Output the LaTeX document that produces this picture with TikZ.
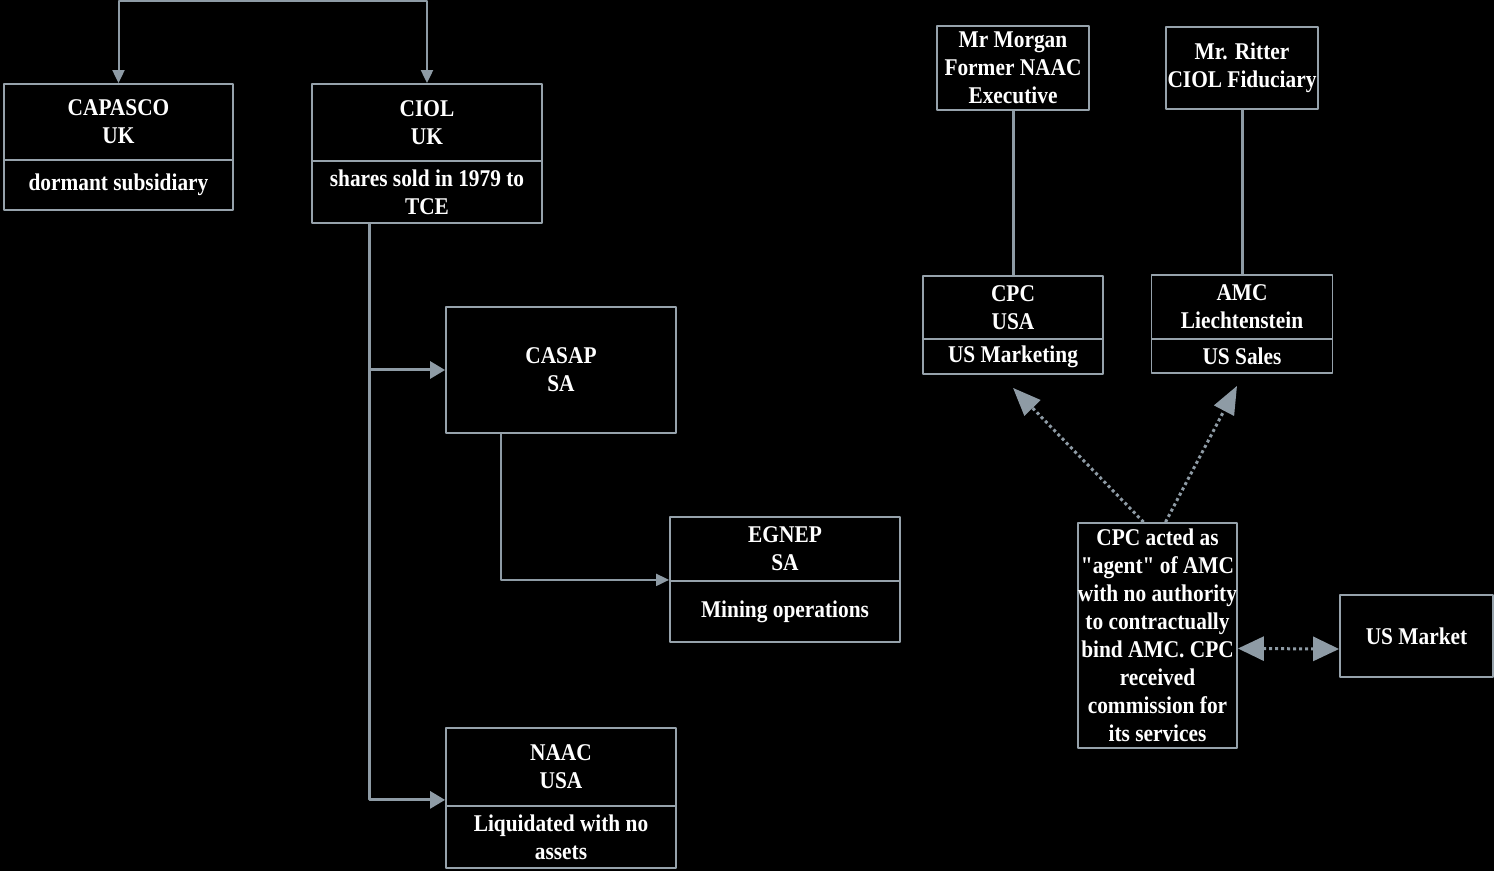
\documentclass[tikz,border=0pt]{standalone}
\usepackage{fontspec}
\setmainfont{Liberation Serif}[Ligatures=TeXOff,FakeStretch=0.89]
\usetikzlibrary{arrows.meta}
\definecolor{linegray}{RGB}{142,155,165}
\definecolor{boxgray}{RGB}{150,162,171}
\begin{document}
\begin{tikzpicture}[x=0.5pt,y=-0.5pt,line join=round,font=\fontsize{12}{14}\selectfont\bfseries,
	box/.style={draw=boxgray,line width=0.9pt,text=white,align=center,inner sep=0pt},
	link/.style={draw=linegray,line width=1pt,-{Triangle[length=6.5pt,width=6pt]}},
	trunk/.style={draw=linegray,line width=1.5pt,-{Triangle[length=7.5pt,width=8.5pt]}},
	tie/.style={draw=linegray,line width=1.5pt},
	dotlink/.style={draw=linegray,line width=1.5pt,dash pattern=on 1.5pt off 1.5pt,-{Triangle[length=14pt,width=11pt]}}]
	\path[use as bounding box,fill=black] (0,0) rectangle (1494,871);
	% left group
	\node[box,minimum width=114.5pt,minimum height=38pt] (capasco) at (118.5,122) {CAPASCO\\UK};
	\node[box,minimum width=114.5pt,minimum height=25pt] (capasco-b) at (118.5,185) {dormant subsidiary};
	\node[box,minimum width=115pt,minimum height=38.5pt] (ciol) at (427,122.5) {CIOL\\UK};
	\node[box,minimum width=115pt,minimum height=31pt] (ciol-b) at (427,192) {shares sold in 1979 to\\TCE};
	\node[box,minimum width=115pt,minimum height=63pt] (casap) at (561,370) {CASAP\\SA};
	\node[box,minimum width=115pt,minimum height=32pt] (egnep) at (785,549) {EGNEP\\SA};
	\node[box,minimum width=115pt,minimum height=30.5pt] (egnep-b) at (785,611.5) {Mining operations};
	\node[box,minimum width=115pt,minimum height=39pt] (naac) at (561,767) {NAAC\\USA};
	\node[box,minimum width=115pt,minimum height=31pt] (naac-b) at (561,837) {Liquidated with no\\assets};
	% right group
	\node[box,minimum width=76pt,minimum height=42pt] (morgan) at (1013,68) {Mr Morgan\\Former NAAC\\Executive};
	\node[box,minimum width=76pt,minimum height=41pt] (ritter) at (1242,68) {Mr. Ritter\\CIOL Fiduciary};
	\node[box,minimum width=90pt,minimum height=31.5pt] (cpc) at (1013,307.5) {CPC\\USA};
	\node[box,minimum width=90pt,minimum height=17.5pt] (cpc-b) at (1013,356.5) {US Marketing};
	\node[box,minimum width=90.5pt,minimum height=32pt] (amc) at (1242,307) {AMC\\Liechtenstein};
	\node[box,minimum width=90.5pt,minimum height=17pt] (amc-b) at (1242,356) {US Sales};
	\node[box,minimum width=79.5pt,minimum height=112.5pt] (note) at (1157.5,635.5) {CPC acted as\\"agent" of AMC\\with no authority\\to contractually\\bind AMC. CPC\\received\\commission for\\its services};
	\node[box,minimum width=76.5pt,minimum height=41pt] (usmarket) at (1416.5,636) {US Market};
	% connectors
	\coordinate (top) at (272,1);
	\draw[link] (top) -| (capasco.north);
	\draw[link] (top) -| (ciol.north);
	\draw[trunk] ([xshift=29pt]ciol-b.south west) |- (casap.west);
	\draw[trunk] ([xshift=29pt]ciol-b.south west) |- ([yshift=3.5pt]naac.south west);
	\draw[link] ([xshift=28pt]casap.south west) |- ([yshift=1pt]egnep.south west);
	\draw[tie] (morgan.south) -- (cpc.north);
	\draw[tie] (ritter.south) -- (amc.north);
	\draw[dotlink] ([xshift=-7pt]note.north) -- ([yshift=-6.5pt]cpc-b.south);
	\draw[dotlink] ([xshift=4pt]note.north) -- ([xshift=-2.5pt,yshift=-6pt]amc-b.south);
	\draw[dotlink,{Triangle[length=13pt,width=12pt]}-{Triangle[length=13pt,width=12pt]}] ([yshift=-6.5pt]note.east) -- ([yshift=-6.5pt]usmarket.west);
\end{tikzpicture}
\end{document}
